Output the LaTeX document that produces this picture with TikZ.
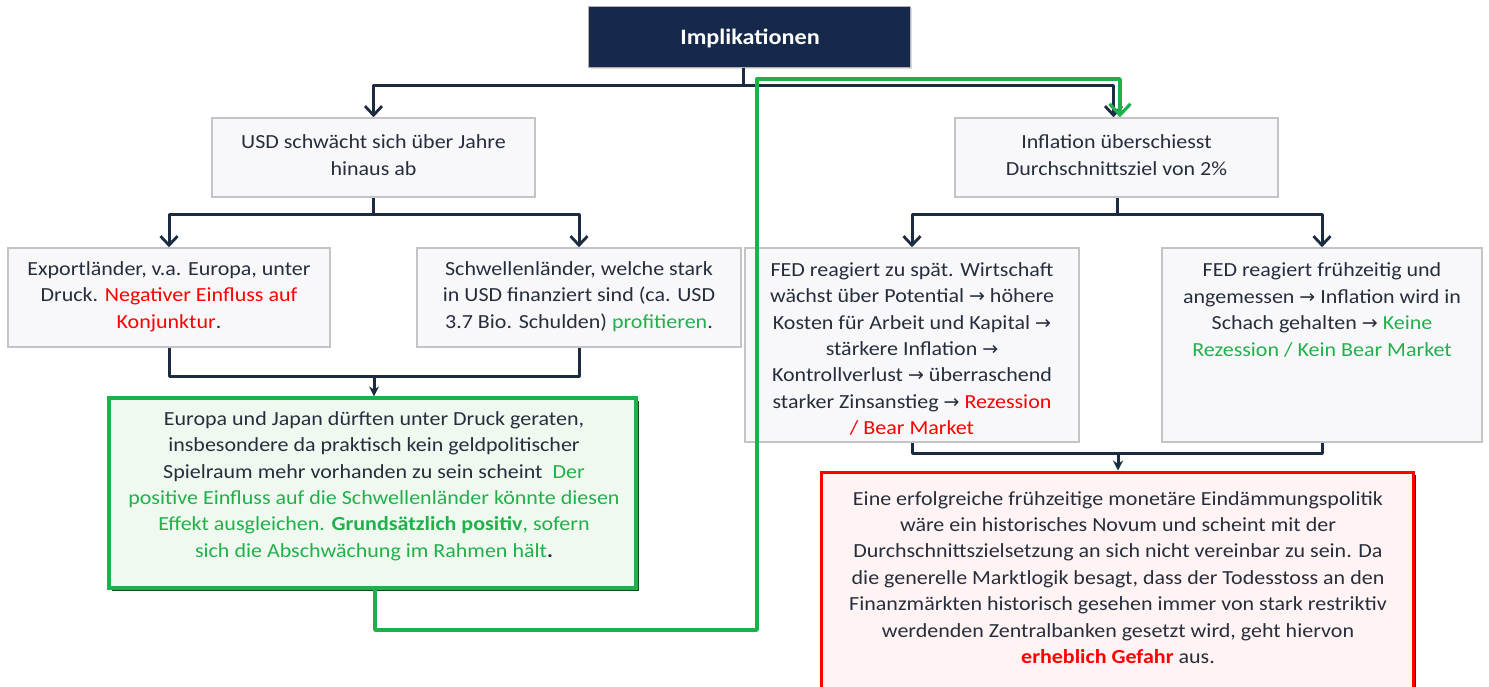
\documentclass[tikz,border=0pt]{standalone}
\usepackage{fontspec}
\setmainfont{Carlito}[FakeStretch=1.1]
\newfontfamily\arrfont{DejaVu Sans}
\newcommand\rarr{{\arrfont\fontsize{19}{19}\selectfont →}}
\usetikzlibrary{arrows.meta,shadows}
\definecolor{navy}{HTML}{16294A}
\definecolor{linec}{HTML}{1C2B40}
\definecolor{txt}{HTML}{262E3C}
\definecolor{gr}{HTML}{22B04B}
\definecolor{grb}{HTML}{1DB14B}
\definecolor{grsh}{HTML}{0E4A22}
\definecolor{rd}{HTML}{FF0000}
\definecolor{rdsh}{HTML}{5A0000}
\definecolor{boxfill}{HTML}{F8F8FB}
\definecolor{boxline}{HTML}{C4C4C8}
\tikzset{
  graybox/.style={draw=boxline, line width=1.6pt, fill=boxfill, inner sep=0pt,
    drop shadow={shadow xshift=1.2pt, shadow yshift=-1.2pt, fill=gray!45}},
  btext/.style={text=txt, align=center, inner sep=0pt,
    font=\fontsize{20}{26.4}\selectfont},
  conn/.style={draw=linec, line width=3pt, line join=round},
  barb/.style={-{Straight Barb[length=9pt,width=17pt,line width=2.8pt]}},
  smallhead/.style={-{Stealth[length=10pt,width=10pt]}},
  greenconn/.style={draw=grb, line width=3.4pt, line join=round,
    -{Straight Barb[length=11pt,width=21pt,line width=3.2pt]}}
}
\begin{document}
\begin{tikzpicture}[x=1pt,y=-1pt]
\useasboundingbox (0,0) rectangle (1489,686);
\clip (0,0) rectangle (1489,686);
\fill[white] (0,0) rectangle (1489,686);

% top box
\node[draw=gray!60, line width=1pt, fill=navy, minimum width=322pt, minimum height=61pt,
  drop shadow={shadow xshift=1.5pt, shadow yshift=-1.5pt, fill=gray!50}] (imp) at (749,36.5) {};
\node[text=white, font=\fontsize{22}{24}\selectfont\bfseries] (timp) at (750,38) {Implikationen};

% level 2
\node[graybox, minimum width=323pt, minimum height=79pt] (usd) at (373.5,157.5) {};
\node[btext] (tusd) at (373.5,155) {USD schwächt sich über Jahre\\hinaus ab};
\node[graybox, minimum width=323pt, minimum height=79pt] (inf) at (1116.5,157.5) {};
\node[btext] (tinf) at (1116.5,155) {Inflation überschiesst\\Durchschnittsziel von 2\%};

% level 3
\node[graybox, minimum width=322pt, minimum height=99pt] (exp) at (169,297.5) {};
\node[btext] (texp) at (169,296.5) {Exportländer, v.a. Europa, unter\\Druck. \textcolor{rd}{Negativer Einfluss auf}\\\textcolor{rd}{Konjunktur}.};
\node[graybox, minimum width=324pt, minimum height=99pt] (schw) at (579,297.5) {};
\node[btext] (tschw) at (579,296.5) {Schwellenländer, welche stark\\in USD finanziert sind (ca. USD\\3.7 Bio. Schulden) \textcolor{gr}{profitieren}.};
\node[graybox, minimum width=334pt, minimum height=194pt] (fedl) at (912,345) {};
\node[btext] (tfedl) at (912,349) {FED reagiert zu spät. Wirtschaft\\wächst über Potential \rarr{} höhere\\Kosten für Arbeit und Kapital \rarr\\stärkere Inflation \rarr\\Kontrollverlust \rarr{} überraschend\\starker Zinsanstieg \rarr{} \textcolor{rd}{Rezession}\\\textcolor{rd}{/ Bear Market}};
\node[graybox, minimum width=320pt, minimum height=194pt] (fede) at (1322,345) {};
\node[btext] (tfede) at (1322,310) {FED reagiert frühzeitig und\\angemessen \rarr{} Inflation wird in\\Schach gehalten \rarr{} \textcolor{gr}{Keine}\\\textcolor{gr}{Rezession / Kein Bear Market}};

% level 4
\node[draw=grb, line width=3.2pt, fill={rgb,255:red,239;green,249;blue,240}, minimum width=527pt, minimum height=190pt,
  drop shadow={shadow xshift=2.5pt, shadow yshift=-2.5pt, fill=grsh, opacity=1}] (green) at (372.5,493) {};
\node[btext] (tgreen) at (374,486) {Europa und Japan dürften unter Druck geraten,\\insbesondere da praktisch kein geldpolitischer\\Spielraum mehr vorhanden zu sein scheint \ \textcolor{gr}{Der}\\\textcolor{gr}{positive Einfluss auf die Schwellenländer könnte diesen}\\\textcolor{gr}{Effekt ausgleichen. \textbf{Grundsätzlich positiv}, sofern}\\\textcolor{gr}{sich die Abschwächung im Rahmen hält}\textbf{.}};
\node[draw=rd, line width=3pt, fill={rgb,255:red,255;green,243;blue,243}, minimum width=592pt, minimum height=248pt,
  drop shadow={shadow xshift=2.5pt, shadow yshift=-2.5pt, fill=rdsh, opacity=1}] (red) at (1117,596) {};
\node[btext] (tred) at (1118,577.5) {Eine erfolgreiche frühzeitige monetäre Eindämmungspolitik\\wäre ein historisches Novum und scheint mit der\\Durchschnittszielsetzung an sich nicht vereinbar zu sein. Da\\die generelle Marktlogik besagt, dass der Todesstoss an den\\Finanzmärkten historisch gesehen immer von stark restriktiv\\werdenden Zentralbanken gesetzt wird, geht hiervon\\\textcolor{rd}{\textbf{erheblich Gefahr}} aus.};

% connectors
\coordinate (j0) at (743,85);
\draw[conn] (imp.south -| j0) -- (j0);
\draw[conn,barb] (j0) -| (usd.north);
\draw[conn,barb] (j0) -| ([xshift=-3pt]inf.north);

\coordinate (j1) at (373,214);
\draw[conn] (usd.south -| j1) -- (j1);
\draw[conn,barb] (j1) -| (exp.north);
\draw[conn,barb] (j1) -| (schw.north);

\coordinate (j2) at (374,376);
\draw[conn] (exp.south) |- (j2);
\draw[conn] (schw.south) |- (j2);
\draw[conn,smallhead] (j2) -- (green.north -| j2);

\coordinate (j3) at (1117,214);
\draw[conn] (inf.south -| j3) -- (j3);
\draw[conn,barb] (j3) -| (fedl.north);
\draw[conn,barb] (j3) -| (fede.north);

\coordinate (j4) at (1118,453);
\draw[conn] (fedl.south) |- (j4);
\draw[conn] (fede.south) |- (j4);
\draw[conn,smallhead] (j4) -- (red.north -| j4);

% green feedback connector
\coordinate (g1) at (375,630);
\coordinate (g2) at (757,630);
\coordinate (g3) at (757,79);
\coordinate (g4) at (1120,79);
\draw[greenconn] (green.south -| g1) -- (g1) -- (g2) -- (g3) -- (g4) -- (g4 |- inf.north);
\end{tikzpicture}
\end{document}
